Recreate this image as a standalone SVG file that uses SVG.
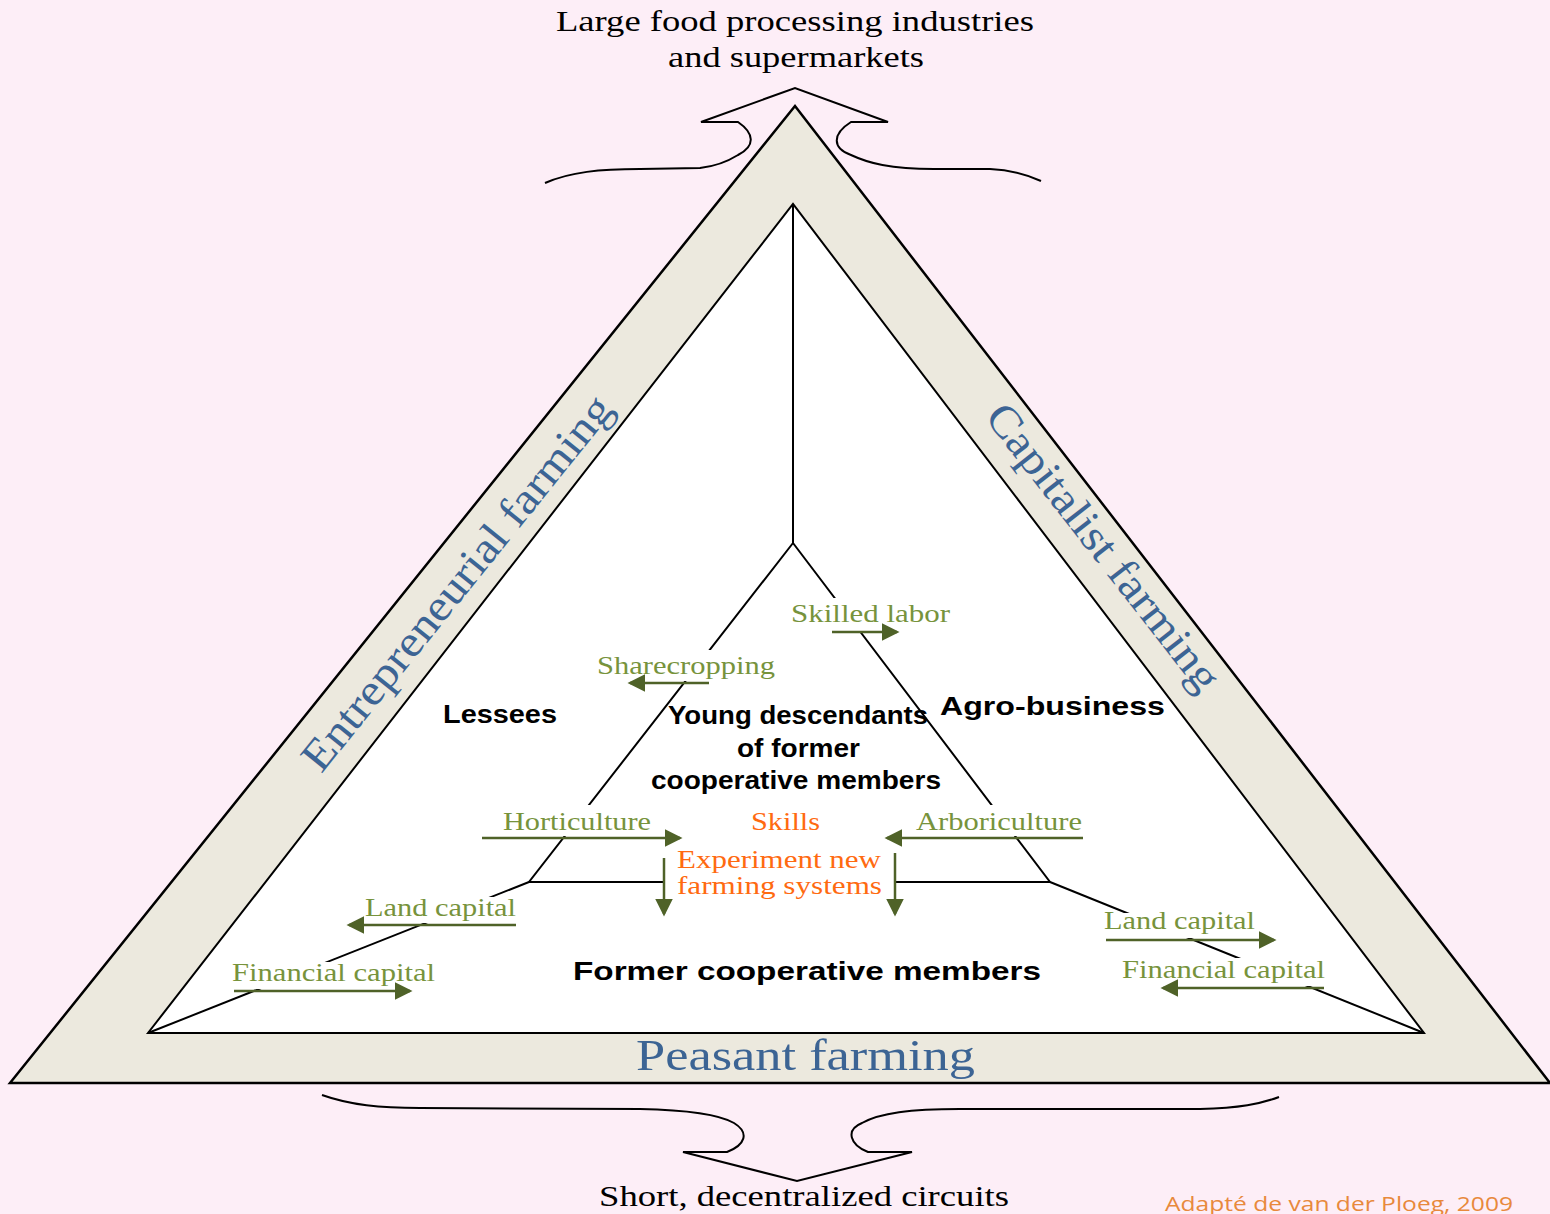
<svg xmlns="http://www.w3.org/2000/svg" width="1550" height="1214" viewBox="0 0 1550 1214">
<defs>
<marker id="ah" markerWidth="8" markerHeight="8" refX="6" refY="4" orient="auto" markerUnits="strokeWidth">
<path d="M0,0.5 L7,4 L0,7.5 Z" fill="#4F6228"/>
</marker>
<style>
.ln{stroke:#000;stroke-width:2;fill:none}
.ga{stroke:#4F6228;stroke-width:2.5;fill:none;marker-end:url(#ah)}
.gt{font-family:"Liberation Serif",serif;font-size:26px;fill:#77933C}
.ot{font-family:"Liberation Serif",serif;font-size:25px;fill:#FF6A10}
.bt{font-family:"Liberation Sans",Arial,sans-serif;font-size:26px;font-weight:bold;fill:#000}
.blue{font-family:"Liberation Serif",serif;font-size:44px;fill:#3C6494}
.cap{font-family:"Liberation Serif",serif;font-size:30px;fill:#000}
.wb{fill:#FFFFFF}
</style>
</defs>
<rect width="1550" height="1214" fill="#FDEEF7"/>

<g id="outer-triangle">
<polygon points="10,1083 795,106 1550,1083" fill="#ECE9DE" stroke="#000" stroke-width="2.5"/>
</g>
<g id="inner-triangle">
<polygon points="148,1033 793,204 1424,1033" fill="#FFFFFF" stroke="#000" stroke-width="2"/>
</g>

<g id="top-arrow">
<path class="ln" d="M545,183 C570,172 600,169 640,169 L700,168 C718,166 730,160 738,155 C756,146 754,133 738,122 L701,122 L795,88 L888,122 L851,122 C832,134 832,148 851,155 C868,163 890,169 934,169 L990,169 C1015,170 1030,176 1041,181"/>
</g>
<g id="bottom-arrow">
<path class="ln" d="M322,1095 C350,1105 380,1108 420,1108 L640,1109 C690,1110 720,1115 734,1123 C750,1133 745,1145 727,1152 L683,1152 L797,1181 L912,1152 L868,1152 C850,1145 845,1130 862,1123 C880,1113 910,1109 960,1109 L1200,1109 C1240,1108 1260,1104 1279,1097"/>
</g>

<g id="connectors">
<path class="ln" d="M793,204 L793,543"/>
<path class="ln" d="M793,543 L529,882 L664,882"/>
<path class="ln" d="M793,543 L1050,882 L895,882"/>
<path class="ln" d="M529,882 L148,1033"/>
<path class="ln" d="M1050,882 L1424,1033"/>
</g>

<g id="label-backgrounds">
<rect class="wb" x="791" y="598" width="160" height="33"/>
<rect class="wb" x="597" y="650" width="179" height="31"/>
<rect class="wb" x="503" y="805" width="149" height="31"/>
<rect class="wb" x="916" y="805" width="167" height="31"/>
<rect class="wb" x="365" y="897" width="152" height="26"/>
<rect class="wb" x="232" y="962" width="204" height="27"/>
<rect class="wb" x="1104" y="913" width="154" height="25"/>
<rect class="wb" x="1122" y="958" width="204" height="28"/>
</g>

<g id="arrows">
<path class="ga" d="M832,632 L897,632"/>
<path class="ga" d="M709,683 L630,683"/>
<path class="ga" d="M482,838 L680,838"/>
<path class="ga" d="M1083,838 L887,838"/>
<path class="ga" d="M664,858 L664,914"/>
<path class="ga" d="M895,853 L895,914"/>
<path class="ga" d="M516,925 L349,925"/>
<path class="ga" d="M234,991 L410,991"/>
<path class="ga" d="M1106,940 L1274,940"/>
<path class="ga" d="M1324,988 L1163,988"/>
</g>

<g id="title-top">
<text class="cap" x="556" y="31" textLength="478" lengthAdjust="spacingAndGlyphs">Large food processing industries</text>
<text class="cap" x="668" y="67" textLength="256" lengthAdjust="spacingAndGlyphs">and supermarkets</text>
</g>
<g id="title-bottom">
<text class="cap" x="599" y="1206" textLength="410" lengthAdjust="spacingAndGlyphs">Short, decentralized circuits</text>
</g>

<g id="entrepreneurial">
<text class="blue" text-anchor="middle" textLength="468" lengthAdjust="spacingAndGlyphs" transform="translate(468,592) rotate(-51.2)">Entrepreneurial farming</text>
</g>
<g id="capitalist">
<text class="blue" text-anchor="middle" textLength="352" lengthAdjust="spacingAndGlyphs" transform="translate(1092,556) rotate(52)">Capitalist farming</text>
</g>
<g id="peasant">
<text class="blue" x="636" y="1070" textLength="339" lengthAdjust="spacingAndGlyphs">Peasant farming</text>
</g>

<g id="lessees"><text class="bt" x="443" y="723" font-size="28" textLength="114" lengthAdjust="spacingAndGlyphs">Lessees</text></g>
<g id="agro-business"><text class="bt" x="940" y="715" font-size="28" textLength="225" lengthAdjust="spacingAndGlyphs">Agro-business</text></g>
<g id="young-descendants">
<text class="bt" x="668" y="724" textLength="260" lengthAdjust="spacingAndGlyphs">Young descendants</text>
<text class="bt" x="737" y="757" textLength="123" lengthAdjust="spacingAndGlyphs">of former</text>
<text class="bt" x="651" y="789" textLength="290" lengthAdjust="spacingAndGlyphs">cooperative members</text>
</g>
<g id="former-members"><text class="bt" x="573" y="980" font-size="28" textLength="468" lengthAdjust="spacingAndGlyphs">Former cooperative members</text></g>

<g id="labels">
<text class="gt" x="791" y="622" textLength="159" lengthAdjust="spacingAndGlyphs">Skilled labor</text>
<text class="gt" x="597" y="674" textLength="178" lengthAdjust="spacingAndGlyphs">Sharecropping</text>
<text class="gt" x="503" y="830" textLength="148" lengthAdjust="spacingAndGlyphs">Horticulture</text>
<text class="ot" x="751" y="830" textLength="69" lengthAdjust="spacingAndGlyphs">Skills</text>
<text class="gt" x="916" y="830" textLength="166" lengthAdjust="spacingAndGlyphs">Arboriculture</text>
<text class="ot" x="677" y="868" textLength="204" lengthAdjust="spacingAndGlyphs">Experiment new</text>
<text class="ot" x="677" y="894" textLength="205" lengthAdjust="spacingAndGlyphs">farming systems</text>
<text class="gt" x="365" y="916" textLength="151" lengthAdjust="spacingAndGlyphs">Land capital</text>
<text class="gt" x="232" y="981" textLength="203" lengthAdjust="spacingAndGlyphs">Financial capital</text>
<text class="gt" x="1104" y="929" textLength="151" lengthAdjust="spacingAndGlyphs">Land capital</text>
<text class="gt" x="1122" y="978" textLength="203" lengthAdjust="spacingAndGlyphs">Financial capital</text>
</g>

<g id="source">
<text x="1165" y="1211" font-family="'Open Sans','Liberation Sans',sans-serif" font-size="20" fill="#E8893C" textLength="348" lengthAdjust="spacingAndGlyphs">Adapté de van der Ploeg, 2009</text>
</g>
</svg>
